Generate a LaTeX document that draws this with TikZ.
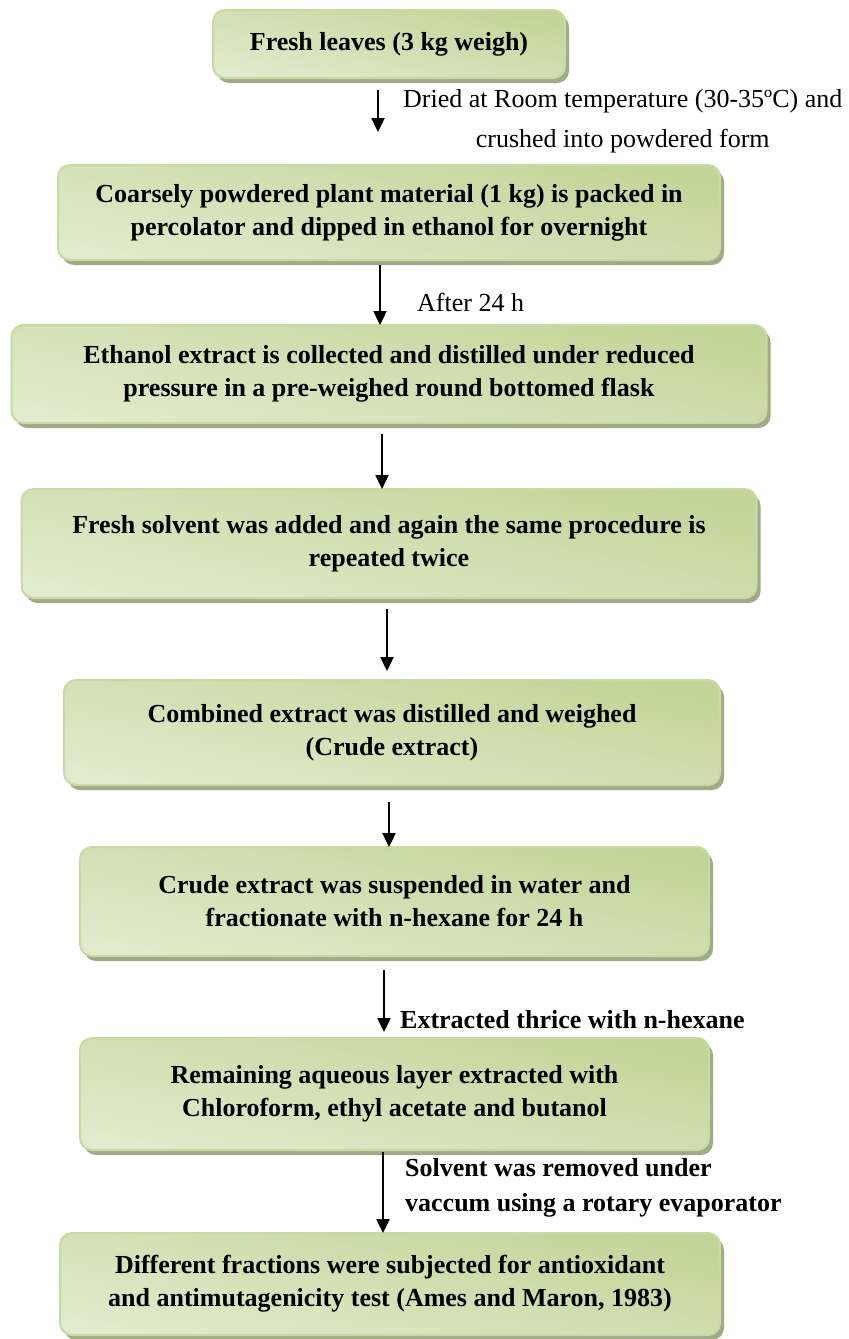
\documentclass[tikz,border=0pt]{standalone}
\usepackage{fontspec}
\setmainfont{Liberation Serif}
\usetikzlibrary{arrows.meta,positioning,shadows}
\definecolor{leafdark}{RGB}{194,213,152}
\definecolor{leaflight}{RGB}{237,243,226}
\definecolor{leafline}{RGB}{200,218,163}
\definecolor{leafshadow}{RGB}{160,170,136}

\begin{document}
\begin{tikzpicture}[
    node distance=40pt,
    every node/.style={font=\fontsize{13}{16.5}\selectfont},
    stage/.style={draw=leafline, line width=1pt, rounded corners=6pt, align=center, inner sep=0pt, outer sep=0pt,
        top color=leafdark, middle color=leaflight, bottom color=leaflight!70!leafdark, shading angle=-12,
        general shadow={shadow xshift=2pt, shadow yshift=-2.5pt, fill=leafshadow},
        font=\fontsize{13}{16.5}\selectfont\bfseries},
    note/.style={align=center, inner sep=0pt},
    flow/.style={-{Triangle[length=7pt,width=6.5pt]}, line width=1.2pt}
]
\useasboundingbox (0,0) rectangle (424.5pt,-669.5pt);
\node[stage, minimum width=176pt, minimum height=34pt] (leaves) at (194.5pt,-22pt) {Fresh leaves (3 kg weigh)};
\node[stage, minimum width=331pt, minimum height=47.5pt, below=43.5pt of leaves] (packed) {Coarsely powdered plant material (1 kg) is packed in\\percolator and dipped in ethanol for overnight};
\node[stage, minimum width=377.5pt, minimum height=49pt, below=32.5pt of packed] (distil) {Ethanol extract is collected and distilled under reduced\\pressure in a pre-weighed round bottomed flask};
\node[stage, minimum width=367.5pt, minimum height=54.5pt, below=33pt of distil] (repeat) {Fresh solvent was added and again the same procedure is\\repeated twice};
\node[stage, minimum width=328pt, minimum height=52.5pt, below=41pt of repeat, xshift=1.5pt] (combined) {Combined extract was distilled and weighed\\(Crude extract)};
\node[stage, minimum width=314.5pt, minimum height=54.5pt, below=31pt of combined, xshift=1.25pt] (suspend) {Crude extract was suspended in water and\\fractionate with n-hexane for 24 h};
\node[stage, minimum width=314.5pt, minimum height=56pt, below=41pt of suspend] (aqueous) {Remaining aqueous layer extracted with\\Chloroform, ethyl acetate and butanol};
\node[stage, minimum width=330pt, minimum height=51pt, below=41.5pt of aqueous, xshift=-2.25pt] (fractions) {Different fractions were subjected for antioxidant\\and antimutagenicity test (Ames and Maron, 1983)};
\draw[flow, shorten <=6pt, shorten >=16.5pt] ([xshift=-5.5pt]leaves.south) -- ([xshift=-5.5pt]leaves.south |- packed.north)
    node[note, pos=0.5, right=12pt, font=\fontsize{13}{20}\selectfont] (dried) {Dried at Room temperature (30-35ºC) and\\crushed into powdered form};
\draw[flow, shorten <=2.5pt] ([xshift=-4.5pt]packed.south) -- ([xshift=-4.5pt]packed.south |- distil.north)
    node[note, pos=0.66, right=18pt] (hours) {After 24 h};
\draw[flow, shorten <=5.5pt] ([xshift=-3.5pt]distil.south) -- ([xshift=-3.5pt]distil.south |- repeat.north);
\draw[flow, shorten <=5.5pt, shorten >=4.5pt] ([xshift=-1pt]repeat.south) -- ([xshift=-1pt]repeat.south |- combined.north);
\draw[flow, shorten <=8.5pt] ([xshift=-1.5pt]combined.south) -- ([xshift=-1.5pt]combined.south |- suspend.north);
\draw[flow, shorten <=7pt, shorten >=3pt] ([xshift=-5.25pt]suspend.south) -- ([xshift=-5.25pt]suspend.south |- aqueous.north)
    node[note, pos=0.78, right=7.5pt, font=\fontsize{13}{16.5}\selectfont\bfseries] (thrice) {Extracted thrice with n-hexane};
\draw[flow, shorten <=1pt] ([xshift=-5.75pt]aqueous.south) -- ([xshift=-5.75pt]aqueous.south |- fractions.north)
    node[note, pos=0.45, right=10.5pt, align=left, font=\fontsize{13}{17.5}\selectfont\bfseries] (vacuum) {Solvent was removed under\\vaccum using a rotary evaporator};
\end{tikzpicture}
\end{document}
